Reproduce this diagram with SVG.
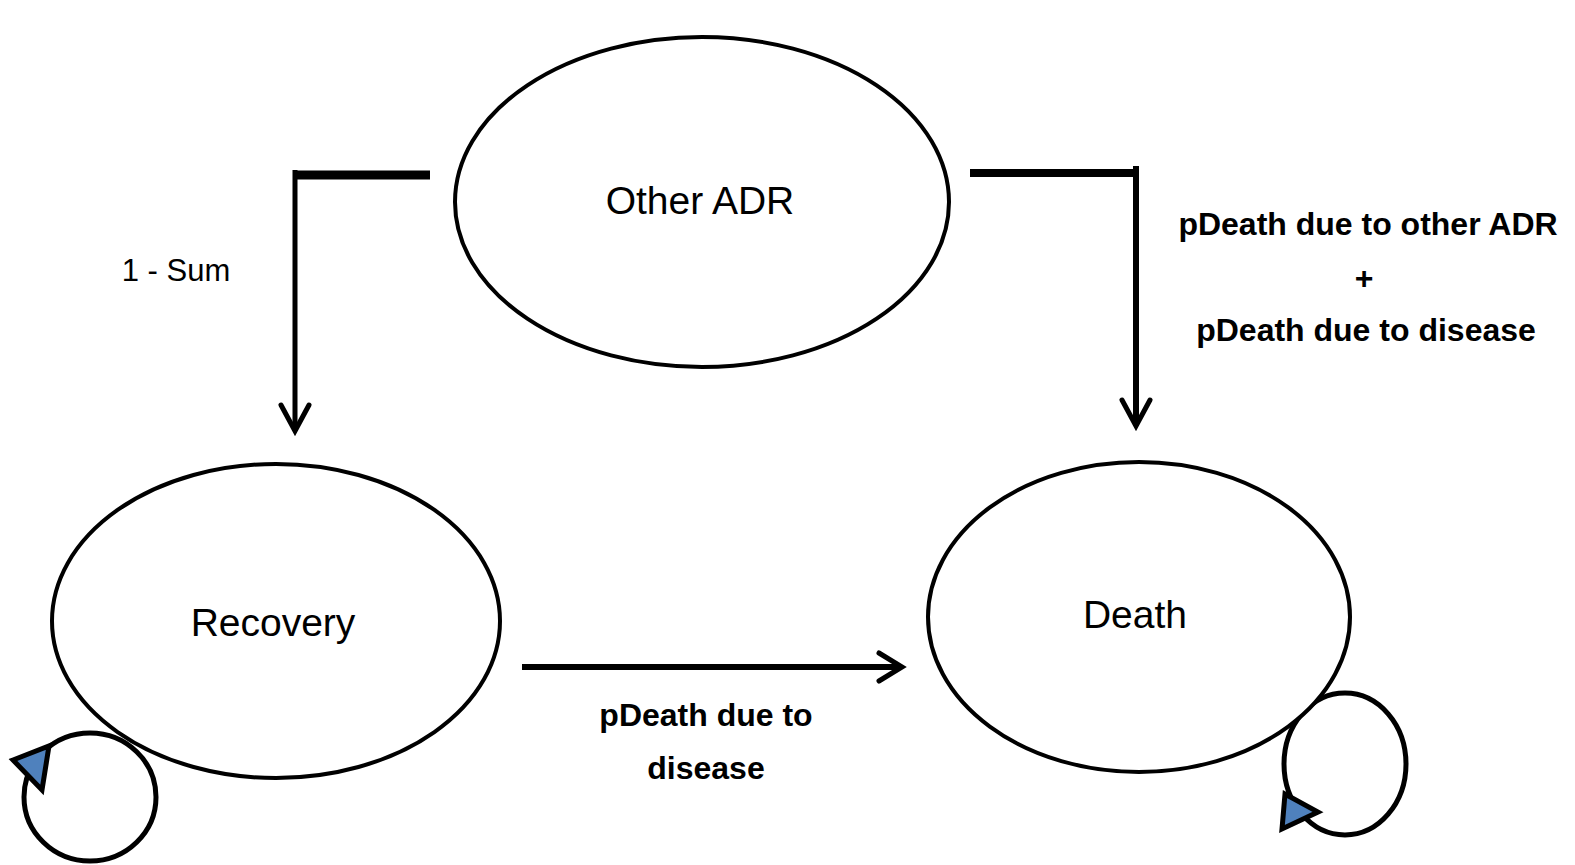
<svg xmlns="http://www.w3.org/2000/svg" width="1575" height="865" viewBox="0 0 1575 865">
  <style>
    .state { fill: #ffffff; stroke: #000000; stroke-width: 4; }
    .name { font-family: "Liberation Sans", Arial, sans-serif; font-size: 39px; fill: #000000; text-anchor: middle; }
    .lbl { font-family: "Liberation Sans", Arial, sans-serif; font-size: 32px; font-weight: bold; fill: #000000; text-anchor: middle; }
    .sum { font-family: "Liberation Sans", Arial, sans-serif; font-size: 31px; fill: #000000; text-anchor: middle; }
    .link { fill: none; stroke: #000000; stroke-linecap: butt; stroke-linejoin: miter; }
    .head { fill: none; stroke: #000000; stroke-width: 5; stroke-linecap: round; stroke-linejoin: miter; }
    .loop { fill: none; stroke: #000000; stroke-width: 5; }
    .loophead { fill: #4f81bd; stroke: #000000; stroke-width: 5; stroke-linejoin: miter; }
  </style>
  <rect width="1575" height="865" fill="#ffffff"/>

  <g id="connectors">
    <!-- Other ADR to Recovery -->
    <path class="link" d="M430 175 H294" stroke-width="9"/>
    <path class="link" d="M295 170 V431" stroke-width="5"/>
    <path class="head" d="M281 405 L295 431 L309 405"/>
    <text class="sum" x="176" y="281">1 - Sum</text>

    <!-- Other ADR to Death -->
    <path class="link" d="M970 173 H1133" stroke-width="8"/>
    <path class="link" d="M1136 166 V426" stroke-width="6"/>
    <path class="head" d="M1122 400 L1136 426 L1150 400"/>
    <text class="lbl" x="1368" y="235">pDeath due to other ADR</text>
    <text class="lbl" x="1364" y="289">+</text>
    <text class="lbl" x="1366" y="341">pDeath due to disease</text>

    <!-- Recovery to Death -->
    <path class="link" d="M522 667 H899" stroke-width="6"/>
    <path class="head" d="M879 653 L902 667 L879 681"/>
    <text class="lbl" x="706" y="726">pDeath due to</text>
    <text class="lbl" x="706" y="779">disease</text>

    <!-- Recovery self loop -->
    <ellipse class="loop" cx="90" cy="797" rx="66" ry="64"/>
    <polygon class="loophead" points="13,760 49,746 42,790"/>

    <!-- Death self loop -->
    <ellipse class="loop" cx="1345" cy="764" rx="61" ry="71"/>
    <polygon class="loophead" points="1282,829 1285,794 1318,812"/>
  </g>

  <g id="node-other-adr">
    <ellipse class="state" cx="702" cy="202" rx="247" ry="165"/>
    <text class="name" x="700" y="214">Other ADR</text>
  </g>

  <g id="node-recovery">
    <ellipse class="state" cx="276" cy="621" rx="224" ry="157"/>
    <text class="name" x="273" y="636">Recovery</text>
  </g>

  <g id="node-death">
    <ellipse class="state" cx="1139" cy="617" rx="211" ry="155"/>
    <text class="name" x="1135" y="628">Death</text>
  </g>
</svg>
